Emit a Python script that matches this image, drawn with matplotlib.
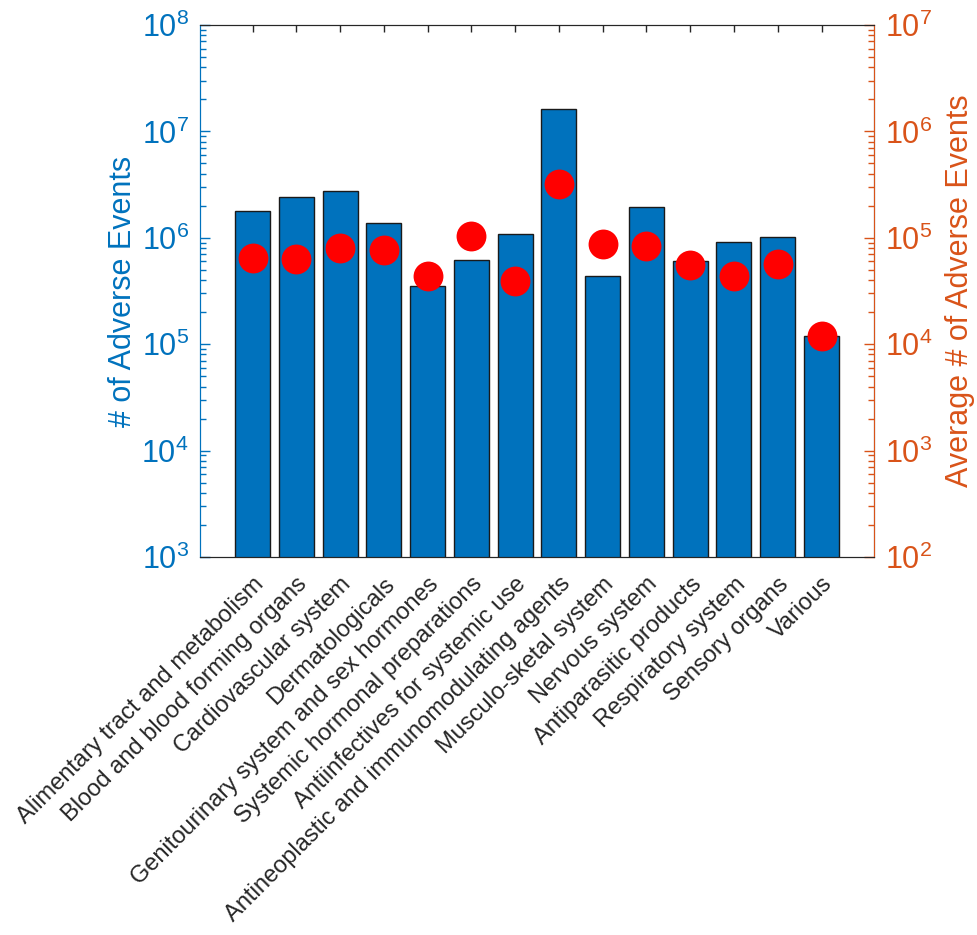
import matplotlib
matplotlib.use("Agg")
import matplotlib.pyplot as plt
from matplotlib.ticker import LogLocator, NullFormatter

# ATC drug classes
categories = [
    "Alimentary tract and metabolism",
    "Blood and blood forming organs",
    "Cardiovascular system",
    "Dermatologicals",
    "Genitourinary system and sex hormones",
    "Systemic hormonal preparations",
    "Antiinfectives for systemic use",
    "Antineoplastic and immunomodulating agents",
    "Musculo-sketal system",
    "Nervous system",
    "Antiparasitic products",
    "Respiratory system",
    "Sensory organs",
    "Various",
]

# total number of adverse events per class (left axis)
total_events = [1.80e6, 2.43e6, 2.77e6, 1.37e6, 3.5e5, 6.2e5, 1.08e6,
                1.62e7, 4.4e5, 1.93e6, 6.0e5, 9.2e5, 1.02e6, 1.2e5]

# average number of adverse events per drug (right axis)
avg_events = [6.4e4, 6.3e4, 8.1e4, 7.6e4, 4.4e4, 1.03e5, 3.9e4,
              3.2e5, 8.8e4, 8.4e4, 5.5e4, 4.4e4, 5.7e4, 1.19e4]

BLUE = "#0072BD"
ORANGE = "#D95319"
DARK = "#262626"

plt.rcParams["font.family"] = ["Liberation Sans", "DejaVu Sans"]
plt.rcParams["mathtext.fontset"] = "custom"
plt.rcParams["mathtext.rm"] = "Liberation Sans"
plt.rcParams["mathtext.it"] = "Liberation Sans:italic"


def style_log_axis(ax, color, side):
    ax.set_yscale("log")
    ax.yaxis.set_major_locator(LogLocator(base=10, numticks=20))
    ax.yaxis.set_minor_locator(LogLocator(base=10, subs=range(2, 10), numticks=20))
    ax.yaxis.set_minor_formatter(NullFormatter())
    ax.tick_params(axis="y", which="major", direction="in", length=7, width=1,
                   colors=color, labelsize=22, pad=8)
    ax.tick_params(axis="y", which="minor", direction="in", length=4, width=1,
                   colors=color)
    ax.spines[side].set_color(color)


def main():
    fig = plt.figure(figsize=(9.78, 9.35), dpi=100)
    ax = fig.add_axes([0.2045, 0.4043, 0.6892, 0.569])
    x = list(range(1, len(categories) + 1))

    ax.bar(x, total_events, width=0.8, color=BLUE, edgecolor="#1a1a1a",
           linewidth=1.0, zorder=2)
    style_log_axis(ax, BLUE, "left")
    ax.set_ylim(1e3, 1e8)
    ax.set_xlim(-0.2, 15.2)
    ax.set_ylabel("# of Adverse Events", fontsize=22, color=BLUE, labelpad=2.5)

    ax.set_xticks(x)
    ax.set_xticklabels(categories, rotation=45, ha="right", va="top",
                       rotation_mode="anchor", fontsize=17, color=DARK)
    ax.tick_params(axis="x", direction="in", length=5, width=1, colors=DARK,
                   top=True, pad=11.5)
    for side in ["top", "bottom"]:
        ax.spines[side].set_color(DARK)

    ax2 = ax.twinx()
    style_log_axis(ax2, ORANGE, "right")
    ax2.set_ylim(1e2, 1e7)
    ax2.plot(x, avg_events, "o", color="red", markersize=21.5,
             markeredgewidth=0, zorder=3)
    ax2.set_ylabel("Average # of Adverse Events", fontsize=22, color=ORANGE,
                   labelpad=9)
    ax2.spines["left"].set_color(BLUE)
    ax2.spines["top"].set_color(DARK)
    ax2.spines["bottom"].set_color(DARK)

    fig.savefig("out.png", dpi=100, facecolor="white")


if __name__ == "__main__":
    main()
